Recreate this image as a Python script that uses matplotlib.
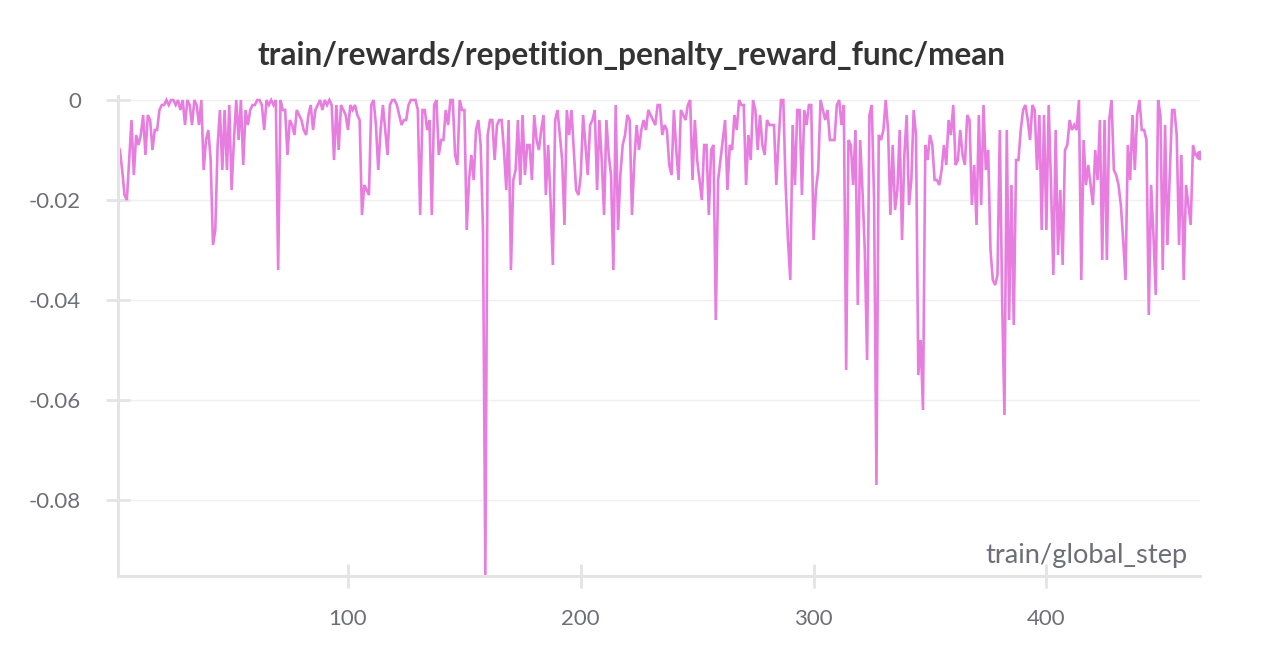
import matplotlib
matplotlib.use("Agg")
import matplotlib.pyplot as plt
import numpy as np

title = "train/rewards/repetition_penalty_reward_func/mean"
x_label = "train/global_step"
y_ticks = [0.0, -0.02, -0.04, -0.06, -0.08]
y_tick_labels = ["0", "-0.02", "-0.04", "-0.06", "-0.08"]
x_ticks = [100, 200, 300, 400]
x_tick_labels = ["100", "200", "300", "400"]

steps = list(range(1, 467))
reward_mean = [
    -0.009, -0.010, -0.014, -0.019, -0.020, -0.012, -0.004, -0.015, -0.007, -0.009,
    -0.007, -0.003, -0.011, -0.003, -0.004, -0.010, -0.006, -0.006, -0.002, -0.001,
    -0.001, 0.000, -0.001, 0.000, 0.000, -0.001, 0.000, -0.002, 0.000, -0.005,
    0.000, -0.001, -0.005, 0.000, -0.001, -0.005, 0.000, -0.014, -0.008, -0.006,
    -0.012, -0.029, -0.026, -0.009, -0.002, -0.014, -0.002, -0.014, -0.001, -0.018,
    -0.008, 0.000, -0.008, 0.000, -0.013, -0.002, -0.005, -0.002, -0.001, -0.001,
    0.000, 0.000, -0.001, -0.006, 0.000, -0.001, 0.000, -0.001, 0.000, -0.034,
    0.000, -0.002, -0.002, -0.011, -0.004, -0.005, -0.007, -0.002, -0.003, -0.004,
    -0.006, -0.007, -0.003,
    -0.001, -0.006, -0.002, -0.001, 0.000, -0.002, 0.000, -0.001, 0.000, -0.001,
    -0.012, -0.001, -0.010, -0.001, -0.002, -0.003, -0.006, -0.001, -0.002, -0.001,
    -0.003, -0.004, -0.023, -0.017, -0.018, -0.019, -0.001, 0.000, -0.005, -0.014,
    -0.006, -0.001, -0.006, -0.011, -0.001, 0.000, 0.000, -0.001, -0.003, -0.005,
    -0.004, -0.004, -0.001,
    0.000, 0.000, 0.000, -0.002, -0.023, -0.002, -0.002, -0.006, -0.004, -0.023,
    -0.001, 0.000, -0.011, -0.008, -0.008, -0.002, -0.005, 0.000, 0.000, -0.011,
    -0.013, 0.000, -0.002, -0.002, -0.026, -0.016, -0.011, -0.016, -0.006, -0.004,
    -0.009, -0.026, -0.095, -0.007, -0.004, -0.004, -0.012, -0.005, -0.004, -0.004,
    -0.010, -0.018, -0.004,
    -0.034, -0.016, -0.014, -0.004, -0.017, -0.003, -0.015, -0.009, -0.009, -0.016,
    -0.003, -0.008, -0.010, -0.006, -0.003, -0.019, -0.009, -0.020, -0.033, -0.004,
    -0.002, -0.007, -0.012, -0.025, -0.002, -0.007, -0.002, -0.010, -0.018, -0.019,
    -0.015, -0.003, -0.009, -0.015, -0.005, -0.004, -0.002, -0.018, -0.004, -0.012,
    -0.023, -0.004, -0.011, -0.015, -0.034, -0.001, -0.026, -0.015, -0.009, -0.007,
    -0.003, -0.004, -0.023, -0.012, -0.005, -0.010, -0.006, -0.004, -0.006, -0.002,
    -0.003, -0.004, -0.005, -0.001,
    -0.001, -0.007, -0.005, -0.006, -0.013, -0.015, -0.002, -0.010, -0.016, -0.002,
    -0.003, -0.004, -0.001, 0.000, -0.016, -0.004, -0.012, -0.016, -0.020, -0.009,
    -0.009, -0.023, -0.010, -0.009, -0.044, -0.016, -0.012, -0.008,
    -0.004, -0.018, -0.009, -0.010, -0.003, -0.006, 0.000, -0.001, -0.001, -0.017,
    -0.007, -0.012, 0.000, -0.002, -0.010, -0.003, -0.009, -0.011, -0.004, -0.005,
    -0.005, -0.005,
    -0.017, -0.008, 0.000, 0.000, -0.017, -0.028, -0.036, -0.005, -0.017, -0.002,
    -0.002, -0.019, -0.002, -0.005, -0.001,
    -0.001, -0.028, -0.018, -0.014, 0.000, -0.002, -0.004, -0.002, -0.008, -0.008,
    -0.008, -0.001, 0.000, -0.005, -0.001, -0.054, -0.008, -0.009, -0.017, -0.006,
    -0.041, -0.008, -0.018, -0.030, -0.052, -0.003, -0.001, -0.020, -0.077, -0.007,
    -0.008, -0.006, 0.000, -0.006, -0.023, -0.009, -0.022, -0.018, -0.006, -0.028,
    -0.011, -0.003, -0.021, -0.016, -0.002, -0.007, -0.055, -0.048, -0.062, -0.009,
    -0.012, -0.007, -0.009, -0.016, -0.016,
    -0.017, -0.014, -0.009, -0.013, -0.004, -0.007, -0.001, -0.013, -0.012, -0.006,
    -0.011, -0.013, -0.003, -0.004, -0.021, -0.013, -0.025, -0.003, -0.021, -0.001,
    -0.014, -0.010, -0.030, -0.036, -0.037, -0.035, -0.006, -0.040, -0.063, -0.006,
    -0.044, -0.017, -0.045, -0.012, -0.012, -0.006, -0.002, -0.001, -0.004, -0.008,
    -0.001, -0.002, -0.014, -0.003, -0.026, -0.003, -0.026, -0.001, -0.017, -0.035,
    -0.006, -0.031, -0.018, -0.033, -0.010, -0.009, -0.004,
    -0.006, -0.005, -0.006, 0.000, -0.036, -0.008, -0.017, -0.013, -0.017, -0.021,
    -0.010, -0.016, -0.004, -0.032, -0.004, -0.032, -0.004, 0.000, -0.014, -0.015,
    -0.017, -0.021, -0.028, -0.036, -0.009, -0.016, -0.003, -0.014, -0.003, 0.000,
    -0.006, -0.006, -0.008, -0.043, -0.017, -0.027, -0.039, 0.000, -0.003, -0.034,
    -0.005, -0.029, -0.015, -0.002, -0.002, -0.007, -0.029, -0.011, -0.036, -0.017,
    -0.021, -0.025, -0.009, -0.011, -0.011, -0.011,
]

line_color = "#E87DE0"
axis_color = "#E4E4E4"
grid_color = "#EFEFEF"
text_color = "#6E6E78"
title_color = "#333333"

plt.rcParams["font.family"] = ["Lato", "DejaVu Sans"]

fig = plt.figure(figsize=(12.64, 6.64), dpi=100)
ax = fig.add_axes([118 / 1264, 1 - 576 / 664, (1200 - 118) / 1264, (576 - 96) / 664])

ax.plot(steps, reward_mean, color=line_color, linewidth=1.9, solid_joinstyle="miter")
ax.plot(steps[-1:], reward_mean[-1:], "o", color=line_color, markersize=6)

ax.set_xlim(1.2, 466)
ax.set_ylim(-0.0952, 0.0008)

ax.set_yticks(y_ticks)
ax.set_yticklabels(y_tick_labels)
ax.set_xticks(x_ticks)
ax.set_xticklabels(x_tick_labels)

ax.grid(axis="y", color=grid_color, linewidth=1.0)
ax.set_axisbelow(True)

for side in ["top", "right"]:
    ax.spines[side].set_visible(False)
for side in ["left", "bottom"]:
    ax.spines[side].set_color(axis_color)
    ax.spines[side].set_linewidth(2.2)

ax.tick_params(axis="both", direction="inout", length=17, width=2.0,
               color=axis_color, labelcolor=text_color, labelsize=16)
ax.tick_params(axis="y", pad=18)
ax.tick_params(axis="x", pad=15)

ax.text((1188 - 118) / 1082, (576 - 556) / 480, x_label, transform=ax.transAxes,
        ha="right", va="center", color=text_color, fontsize=19.6)

fig.text(632 / 1264, 1 - 55 / 664, title, ha="center", va="center",
         fontsize=22.7, fontweight="bold", color=title_color)

fig.savefig("out.png", dpi=100, facecolor="white")
